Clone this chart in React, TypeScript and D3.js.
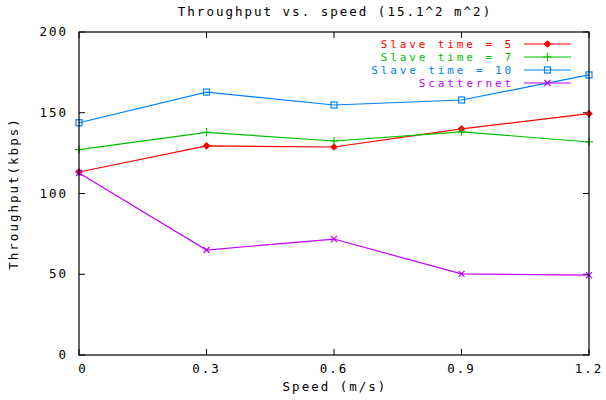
import React from "react";
import * as d3 from "d3";

const speeds = [0, 0.3, 0.6, 0.9, 1.2];
const slave5 = [113.3, 129.5, 128.8, 140.0, 149.4];
const slave7 = [127.2, 137.9, 132.5, 138.2, 131.9];
const slave10 = [143.8, 162.8, 154.8, 157.9, 173.4];
const scatternet = [112.7, 65.0, 71.8, 50.2, 49.5];
const xTicks = [0, 0.3, 0.6, 0.9, 1.2];
const xTickLabels = ["0", "0.3", "0.6", "0.9", "1.2"];
const yTicks = [0, 50, 100, 150, 200];
const seriesNames = ["Slave time = 5", "Slave time = 7", "Slave time = 10", "Scatternet"];
const seriesColors = ["#ff0000", "#00c000", "#0080ff", "#c000ff"];
const markers = ["dot", "plus", "square", "cross"];

const W = 606, H = 400;
const M = { left: 79, right: 17, top: 32, bottom: 45 };
const FONT = "'DejaVu Sans Mono', 'Liberation Mono', monospace";
const fs = 12.5;
const ls = 2.0;
const lfs = 11;
const lls = 2.9;

function Marker({ type, x, y, color }: { type: string; x: number; y: number; color: string }) {
  const s = 3;
  if (type === "dot") return <g stroke={color} strokeWidth={1.2} fill={color}><path d={`M${x - s},${y} L${x},${y - s} L${x + s},${y} L${x},${y + s} Z`} /></g>;
  if (type === "plus") return <path d={`M${x - s - 1},${y} H${x + s + 1} M${x},${y - s - 1} V${y + s + 1}`} stroke={color} strokeWidth={1.2} />;
  if (type === "square") return <rect x={x - s} y={y - s} width={2 * s} height={2 * s} fill="none" stroke={color} strokeWidth={1.2} />;
  return <path d={`M${x - s},${y - s} L${x + s},${y + s} M${x - s},${y + s} L${x + s},${y - s}`} stroke={color} strokeWidth={1.2} />;
}

export default function App() {
  const x = d3.scaleLinear().domain([0, 1.2]).range([M.left, W - M.right]);
  const y = d3.scaleLinear().domain([0, 200]).range([H - M.bottom, M.top]);
  const allSeries = [slave5, slave7, slave10, scatternet];
  const line = d3.line<number>().x((_, i) => x(speeds[i])).y((d) => y(d));
  const tl = 6;
  const legX1 = 524, legX2 = 571, legText = 514;
  const legY = [44, 57, 70, 83];
  return (
    <div style={{ position: "fixed", left: 0, top: 0 }}>
      <svg width={W} height={H} style={{ display: "block", background: "#fff" }}>
        <rect width={W} height={H} fill="#fff" />
        <text x={335} y={16} textAnchor="middle" fontFamily={FONT} fontSize={fs} letterSpacing={ls} fill="#000">Throughput vs. speed (15.1^2 m^2)</text>
        {yTicks.map((t) => (
          <g key={"y" + t}>
            <line x1={x(0)} x2={x(0) + tl} y1={y(t)} y2={y(t)} stroke="#000" />
            <line x1={x(1.2)} x2={x(1.2) - tl} y1={y(t)} y2={y(t)} stroke="#000" />
            <text x={68} y={y(t) + 4} textAnchor="end" fontFamily={FONT} fontSize={fs} letterSpacing={ls} fill="#000">{t}</text>
          </g>
        ))}
        {xTicks.map((t, i) => (
          <g key={"x" + t}>
            <line x1={x(t)} x2={x(t)} y1={y(0)} y2={y(0) - tl} stroke="#000" />
            <line x1={x(t)} x2={x(t)} y1={y(200)} y2={y(200) + tl} stroke="#000" />
            <text x={x(t) + (i === 0 ? 4 : 0)} y={373} textAnchor="middle" fontFamily={FONT} fontSize={fs} letterSpacing={ls} fill="#000">{xTickLabels[i]}</text>
          </g>
        ))}
        <text x={335} y={391} textAnchor="middle" fontFamily={FONT} fontSize={fs} letterSpacing={ls} fill="#000">Speed (m/s)</text>
        <text transform={`translate(18,${(y(0) + y(200)) / 2}) rotate(-90)`} textAnchor="middle" fontFamily={FONT} fontSize={fs} letterSpacing={ls} fill="#000">Throughput(kbps)</text>
        {allSeries.map((s, k) => (
          <g key={"s" + k}>
            <path d={line(s) || ""} fill="none" stroke={seriesColors[k]} strokeWidth={1.2} />
            {s.map((v, i) => (
              <Marker key={i} type={markers[k]} x={x(speeds[i])} y={y(v)} color={seriesColors[k]} />
            ))}
          </g>
        ))}
        {seriesNames.map((n, k) => (
          <g key={"l" + k}>
            <text x={legText} y={legY[k] + 4} textAnchor="end" fontFamily={FONT} fontSize={lfs} letterSpacing={lls} fill={seriesColors[k]}>{n}</text>
            <line x1={legX1} x2={legX2} y1={legY[k]} y2={legY[k]} stroke={seriesColors[k]} strokeWidth={1.2} />
            <Marker type={markers[k]} x={(legX1 + legX2) / 2} y={legY[k]} color={seriesColors[k]} />
          </g>
        ))}
        <rect x={M.left} y={M.top} width={W - M.left - M.right} height={H - M.top - M.bottom} fill="none" stroke="#000" strokeWidth={1.2} />
      </svg>
    </div>
  );
}
